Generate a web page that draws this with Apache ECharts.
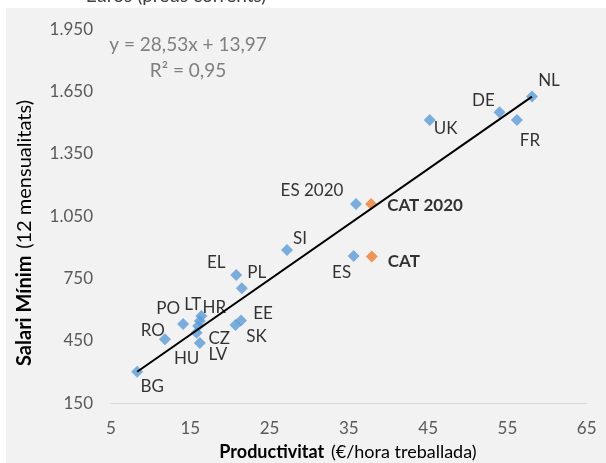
<!DOCTYPE html>
<html>
<head>
<meta charset="utf-8">
<script src="https://cdn.jsdelivr.net/npm/echarts@6/dist/echarts.min.js"></script>
<style>
html,body{margin:0;padding:0;background:#fff;}
#c{width:606px;height:463px;}
</style>
</head>
<body>
<div id="c"></div>
<script>
const names = ['NL','DE','FR','UK','ES 2020','ES','SI','EL','PL','HR','LT','CZ','HU','LV','PO','RO','EE','SK','BG'];
const productivity = [58.1, 54.0, 56.2, 45.2, 35.9, 35.6, 27.2, 20.8, 21.5, 16.4, 16.2, 16.0, 15.8, 16.2, 14.1, 11.8, 21.4, 20.7, 8.3];
const salary = [1626, 1551, 1514, 1514, 1109, 859, 888, 768, 704, 570, 546, 522, 489, 440, 532, 458, 548, 527, 302];
const catNames = ['CAT 2020', 'CAT'];
const catProductivity = [37.8, 37.9];
const catSalary = [1109, 856];
const trendX = [8.3, 58.1];
const trendY = [302, 1626];
const xTicks = [5, 15, 25, 35, 45, 55, 65];
const yTicks = [150, 450, 750, 1050, 1350, 1650, 1950];

const labelOffsets = {
  'NL':[17,-16],'DE':[-16,-12],'FR':[13,21],'UK':[16,9],'ES 2020':[-44,-14],'ES':[-12,17],
  'SI':[13,-11],'EL':[-20,-12],'PL':[15,-16],'HR':[13,-9],'LT':[-7,-17],'CZ':[21,13],
  'HU':[-10,26],'LV':[18,11],'PO':[-15,-15],'RO':[-12,-9],'EE':[22,-7],'SK':[21,12],'BG':[15,15],
  'CAT 2020':[54,1],'CAT':[32,5]
};

const FONT = 'Lato, "Open Sans", sans-serif';

function fmt(v){
  if (v >= 1000) return Math.floor(v/1000) + '.' + String(v%1000).padStart(3,'0');
  return String(v);
}

const blueData = names.map((n,i)=>({
  value:[productivity[i], salary[i]], name:n,
  label:{offset: labelOffsets[n]}
}));
const catData = catNames.map((n,i)=>({
  value:[catProductivity[i], catSalary[i]], name:n,
  label:{offset: labelOffsets[n]}
}));

const chart = echarts.init(document.getElementById('c'), null, {renderer:'canvas'});
chart.setOption({
  backgroundColor:'#ffffff',
  animation:false,
  graphic:[
    {type:'text', x:176, y:5, z:-1,
     style:{text:'Euros (preus corrents)', font:'19px '+FONT, fill:'#404040', align:'center', verticalAlign:'bottom'}},
    {type:'rect', x:6, y:8, z:-2, shape:{width:600, height:455}, style:{fill:'#f2f2f2'}},
    {type:'text', x:188, y:45, style:{text:'y = 28,53x + 13,97', font:'19px '+FONT, fill:'#7f7f7f', align:'center', verticalAlign:'middle'}},
    {type:'text', x:188, y:71, style:{text:'R² = 0,95', font:'19px '+FONT, fill:'#7f7f7f', align:'center', verticalAlign:'middle'}},
    {type:'text', x:25, y:233, rotation:Math.PI/2,
     style:{text:'{b|Salari Mínim}  {n|(12 mensualitats)}', align:'center', verticalAlign:'middle',
       rich:{b:{fontFamily:FONT, fontSize:20, fontWeight:'bold', fill:'#000', color:'#000'},
             n:{fontFamily:FONT, fontSize:20, fill:'#000', color:'#000'}}}},
    {type:'text', x:348, y:452,
     style:{text:'{b|Productivitat}  {n|(€/hora treballada)}', align:'center', verticalAlign:'middle',
       rich:{b:{fontFamily:FONT, fontSize:18, fontWeight:'bold', fill:'#000', color:'#000'},
             n:{fontFamily:FONT, fontSize:18, fill:'#000', color:'#000'}}}}
  ],
  grid:{left:111, right:19.3, top:29.3, bottom:59.7, containLabel:false},
  xAxis:{
    type:'value', min:xTicks[0], max:xTicks[xTicks.length-1], interval:10,
    axisLine:{show:true, lineStyle:{color:'#d9d9d9', width:1}},
    axisTick:{show:false}, splitLine:{show:false},
    axisLabel:{color:'#595959', fontSize:17, fontFamily:FONT, margin:17}
  },
  yAxis:{
    type:'value', min:yTicks[0], max:yTicks[yTicks.length-1], interval:300,
    axisLine:{show:false}, axisTick:{show:false}, splitLine:{show:false},
    axisLabel:{color:'#595959', fontSize:17, fontFamily:FONT, margin:18, formatter:fmt}
  },
  series:[
    {type:'line', data:trendX.map((x,i)=>[x, trendY[i]]), symbol:'none',
     lineStyle:{color:'#000', width:2}, z:3, silent:true},
    {type:'scatter', data:blueData, symbol:'diamond', symbolSize:12,
     itemStyle:{color:'#5b9bd5'}, z:2,
     label:{show:true, position:'inside', formatter:'{b}', color:'#000', fontSize:17, fontFamily:FONT}},
    {type:'scatter', data:catData, symbol:'diamond', symbolSize:12,
     itemStyle:{color:'#ed7d31'}, z:2,
     label:{show:true, position:'inside', formatter:'{b}', color:'#000', fontSize:17, fontWeight:'bold', fontFamily:FONT}}
  ]
});
</script>
</body>
</html>
